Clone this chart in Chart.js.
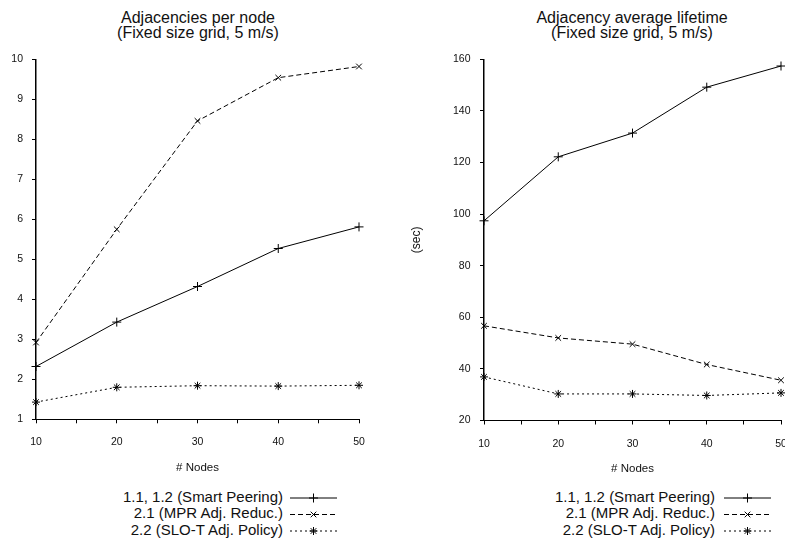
<!DOCTYPE html>
<html lang="en">
<head>
    <meta charset="UTF-8">
    <title>Adjacencies per node / Adjacency average lifetime</title>
    <script src="https://cdn.jsdelivr.net/npm/chart.js"></script>
    <style>
        body {
            margin: 0;
            width: 785px;
            height: 541px;
            overflow: hidden;
            background: #fff;
            font-family: "Liberation Sans", Arial, sans-serif;
            color: #111;
            position: relative;
        }
        canvas { position: absolute; top: 0; }
        .title {
            position: absolute;
            top: 10px;
            font-size: 16px;
            line-height: 15px;
            text-align: center;
            white-space: nowrap;
        }
        .legend {
            position: absolute;
            top: 488.5px;
            font-size: 15px;
            line-height: 16.5px;
            text-align: right;
            white-space: nowrap;
        }
        .sample { position: absolute; top: 488px; }
    </style>
</head>
<body>
    <div class="title" style="left:98px;width:200px;">Adjacencies per node<br>(Fixed size grid, 5 m/s)</div>
    <div class="title" style="left:532px;width:200px;">Adjacency average lifetime<br>(Fixed size grid, 5 m/s)</div>

    <canvas id="adjChart" width="390" height="480" style="left:0;"></canvas>
    <canvas id="lifeChart" width="420" height="480" style="left:390px;"></canvas>

    <!-- Legends -->
    <div class="legend" style="left:0;width:283px;">1.1, 1.2 (Smart Peering)<br>2.1 (MPR Adj. Reduc.)<br>2.2 (SLO-T Adj. Policy)</div>
    <div class="legend" style="left:390px;width:325px;">1.1, 1.2 (Smart Peering)<br>2.1 (MPR Adj. Reduc.)<br>2.2 (SLO-T Adj. Policy)</div>
    <svg class="sample" style="left:288px;" width="52" height="50"></svg>
    <svg class="sample" style="left:722px;" width="52" height="50"></svg>

    <script>
        // x values (# Nodes)
        const nodes = [10, 20, 30, 40, 50];

        // Adjacencies per node
        const adjSmart = [2.32, 3.43, 4.32, 5.27, 5.81];
        const adjMpr = [2.92, 5.75, 8.46, 9.54, 9.82];
        const adjSlot = [1.43, 1.80, 1.84, 1.83, 1.85];

        // Adjacency average lifetime (sec)
        const lifeSmart = [97.4, 122.2, 131.4, 149.2, 157.4];
        const lifeMpr = [56.7, 52.0, 49.6, 41.7, 35.6];
        const lifeSlot = [36.9, 30.3, 30.3, 29.7, 30.7];

        const seriesNames = ["1.1, 1.2 (Smart Peering)", "2.1 (MPR Adj. Reduc.)", "2.2 (SLO-T Adj. Policy)"];
        const seriesStyle = [
            { dash: [], point: "cross", r: 4.5 },
            { dash: [5, 3], point: "crossRot", r: 4 },
            { dash: [2, 3], point: "star", r: 4 }
        ];

        function toXY(values) {
            return values.map((v, i) => ({ x: nodes[i], y: v }));
        }

        function makeDatasets(lists) {
            return lists.map((vals, i) => ({
                label: seriesNames[i],
                data: toXY(vals),
                borderColor: "#000",
                borderWidth: 1,
                borderDash: seriesStyle[i].dash,
                pointStyle: seriesStyle[i].point,
                pointRadius: seriesStyle[i].r,
                pointBorderColor: "#000",
                pointBorderWidth: 1,
                pointBackgroundColor: "transparent",
                tension: 0,
                clip: false
            }));
        }

        function axisGrid() {
            return { drawOnChartArea: false, drawTicks: true, tickLength: 4, color: "#000", lineWidth: 1 };
        }

        function makeChart(id, lists, yMin, yMax, yStep, yWidth, yPad, yTitle, padding) {
            new Chart(document.getElementById(id), {
                type: "line",
                data: { datasets: makeDatasets(lists) },
                options: {
                    responsive: false,
                    animation: false,
                    layout: { padding: padding },
                    plugins: { legend: { display: false }, tooltip: { enabled: false } },
                    scales: {
                        x: {
                            type: "linear",
                            min: 10,
                            max: 50,
                            grid: axisGrid(),
                            border: { display: true, color: "#000", width: 1 },
                            ticks: {
                                stepSize: 5,
                                autoSkip: false,
                                maxRotation: 0,
                                padding: 13,
                                color: "#111",
                                font: { family: "Liberation Sans", size: 10.5 },
                                callback: v => (v % 10 === 0 ? v : "")
                            },
                            title: {
                                display: true,
                                text: "# Nodes",
                                color: "#111",
                                padding: 0,
                                font: { family: "Liberation Sans", size: 11.5 }
                            },
                            afterFit: s => { s.height = 55.5; }
                        },
                        y: {
                            min: yMin,
                            max: yMax,
                            grid: axisGrid(),
                            border: { display: true, color: "#000", width: 1.5 },
                            ticks: {
                                stepSize: yStep,
                                padding: yPad,
                                color: "#111",
                                font: { family: "Liberation Sans", size: 10.5 }
                            },
                            title: {
                                display: !!yTitle,
                                text: yTitle,
                                color: "#111",
                                padding: { top: 19, bottom: 0 },
                                font: { family: "Liberation Sans", size: 12 }
                            },
                            afterFit: s => { s.width = yWidth; }
                        }
                    }
                }
            });
        }

        makeChart("adjChart", [adjSmart, adjMpr, adjSlot], 1, 10, 1, 36, 9, "",
            { top: 59.3, right: 31, bottom: 5.2, left: 0 });
        makeChart("lifeChart", [lifeSmart, lifeMpr, lifeSlot], 20, 160, 20, 94, 9.5, "(sec)",
            { top: 59.3, right: 29, bottom: 4, left: 0 });

        // Legend line samples
        const ns = "http://www.w3.org/2000/svg";
        function el(svg, tag, attrs) {
            const e = document.createElementNS(ns, tag);
            for (const k in attrs) e.setAttribute(k, attrs[k]);
            svg.appendChild(e);
        }
        document.querySelectorAll("svg.sample").forEach(svg => {
            const rows = [10, 26.5, 43];
            rows.forEach((y, i) => {
                const st = { x1: 2, x2: 49, y1: y, y2: y, stroke: "#000", "stroke-width": 1 };
                if (seriesStyle[i].dash.length) st["stroke-dasharray"] = seriesStyle[i].dash.join(" ");
                el(svg, "line", st);
                const cx = 25.5, r = seriesStyle[i].r;
                const s = { stroke: "#000", "stroke-width": 1 };
                if (i === 0 || i === 2) {
                    el(svg, "line", Object.assign({ x1: cx - r, x2: cx + r, y1: y, y2: y }, s));
                    el(svg, "line", Object.assign({ x1: cx, x2: cx, y1: y - r, y2: y + r }, s));
                }
                if (i === 1 || i === 2) {
                    const d = r * 0.707;
                    el(svg, "line", Object.assign({ x1: cx - d, x2: cx + d, y1: y - d, y2: y + d }, s));
                    el(svg, "line", Object.assign({ x1: cx - d, x2: cx + d, y1: y + d, y2: y - d }, s));
                }
            });
        });
    </script>
</body>
</html>
